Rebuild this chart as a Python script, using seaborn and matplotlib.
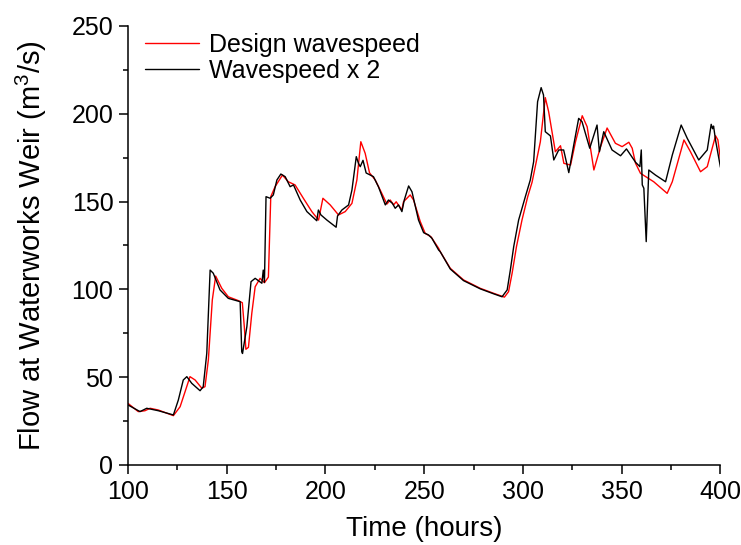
import matplotlib
matplotlib.use("Agg")
import matplotlib.pyplot as plt
from matplotlib.ticker import MultipleLocator
import seaborn as sns

# Design wavespeed (red)
design_t = [100.0, 105.2, 108.6, 111.2, 115.4, 123.0, 126.4, 128.9, 131.4, 134.0,
            137.4, 139.0, 140.7, 142.7, 144.4, 147.5, 150.8, 155.9, 157.9, 158.9,
            159.7, 161.0, 162.7, 164.4, 166.9, 169.1, 171.1, 172.3, 174.5, 178.2,
            181.2, 184.6, 188.8, 193.1, 196.5, 198.7, 202.4, 206.6, 210.0, 213.4,
            215.9, 217.9, 220.1, 222.3, 225.2, 227.7, 231.1, 232.8, 234.5, 235.8,
            238.7, 239.5, 242.9, 244.6, 248.0, 250.5, 253.4, 257.3, 258.1, 263.2,
            269.9, 278.4, 285.1, 290.6, 292.7, 294.5, 296.7, 299.5, 302.4, 304.6,
            308.8, 311.3, 313.0, 316.4, 319.0, 320.7, 324.1, 326.6, 330.0, 332.5,
            335.9, 339.3, 342.6, 346.8, 350.2, 353.6, 355.3, 357.0, 359.5, 366.2,
            373.0, 375.6, 381.5, 384.8, 389.9, 393.3, 397.5, 398.7, 400.0]
design_q = [35.1, 30.4, 30.9, 32.3, 31.3, 28.1, 33.2, 41.7, 50.3, 48.4,
            43.7, 44.6, 59.8, 94.0, 107.6, 100.6, 95.8, 93.6, 92.4, 78.8,
            65.9, 67.0, 86.4, 101.5, 106.3, 103.8, 107.0, 152.8, 158.5, 165.1,
            161.3, 159.5, 151.9, 144.3, 139.5, 151.9, 148.1, 142.4, 144.3, 149.0,
            162.3, 184.1, 177.5, 166.4, 162.3, 156.6, 148.6, 150.9, 148.1, 149.9,
            145.2, 149.9, 153.8, 150.9, 138.6, 131.9, 130.0, 123.4, 121.5, 112.0,
            105.4, 100.6, 97.8, 95.6, 98.7, 109.2, 124.3, 139.5, 152.8, 161.0,
            184.1, 209.2, 201.2, 178.4, 181.8, 171.8, 170.8, 184.1, 198.9, 192.6,
            168.0, 181.3, 191.9, 183.2, 181.3, 183.8, 180.4, 171.8, 166.1, 161.3,
            154.7, 161.3, 185.1, 178.4, 167.0, 169.9, 187.5, 185.1, 174.0]

# Wavespeed x 2 (black)
double_t = [100.0, 106.1, 109.5, 115.4, 123.0, 125.5, 128.0, 129.8, 132.3, 136.5,
            138.1, 139.9, 141.6, 143.2, 146.6, 150.8, 156.8, 157.6, 158.0, 160.2,
            162.3, 164.4, 167.8, 168.5, 169.1, 169.9, 172.0, 173.6, 175.4, 177.4,
            179.6, 182.1, 183.8, 187.2, 190.6, 195.6, 196.4, 197.7, 200.7, 205.4,
            206.1, 208.3, 211.7, 213.4, 215.6, 216.7, 217.6, 219.0, 220.6, 224.3,
            226.8, 230.3, 231.9, 233.9, 235.3, 237.0, 238.7, 239.9, 242.1, 243.8,
            247.1, 249.7, 252.2, 253.9, 257.3, 258.1, 263.2, 269.9, 278.4, 285.1,
            289.4, 292.0, 293.6, 295.3, 297.8, 301.2, 303.7, 305.4, 307.4, 309.2,
            310.4, 311.3, 313.9, 315.6, 318.1, 320.6, 323.2, 325.7, 328.2, 329.9,
            333.8, 337.5, 338.7, 340.9, 345.1, 349.4, 352.4, 357.0, 359.2, 359.9,
            360.4, 361.2, 362.4, 363.7, 367.1, 372.2, 375.6, 380.1, 383.2, 389.0,
            393.3, 395.3, 396.0, 396.5, 397.5, 400.0]
double_q = [34.2, 30.4, 32.3, 30.9, 28.5, 37.0, 48.4, 50.3, 46.5, 42.3,
            44.6, 63.6, 111.0, 109.2, 99.7, 94.9, 93.0, 64.5, 63.5, 78.8,
            104.4, 106.3, 103.5, 111.0, 104.0, 152.8, 151.9, 153.8, 162.3, 165.7,
            164.2, 158.5, 159.5, 150.9, 144.3, 139.1, 145.2, 142.4, 139.5, 135.4,
            141.8, 145.2, 148.1, 156.6, 175.6, 171.8, 169.9, 173.5, 166.3, 164.2,
            158.5, 148.1, 150.9, 149.0, 146.2, 148.1, 144.3, 150.9, 158.9, 155.6,
            139.5, 132.3, 131.0, 129.1, 122.4, 121.5, 111.6, 105.0, 100.3, 97.5,
            95.8, 99.7, 111.0, 124.3, 139.5, 152.8, 162.3, 172.7, 206.9, 214.9,
            210.7, 189.8, 187.4, 173.7, 179.4, 179.4, 166.5, 182.2, 197.4, 195.5,
            180.4, 193.6, 178.4, 189.8, 179.4, 176.1, 180.0, 172.4, 169.9, 179.4,
            159.5, 157.6, 127.2, 168.0, 165.1, 161.3, 176.5, 193.6, 186.0, 173.7,
            179.4, 194.0, 191.5, 193.0, 185.0, 169.5]

sns.set_style("ticks")
plt.rcParams['font.family'] = ['Liberation Sans', 'DejaVu Sans']
plt.rcParams['mathtext.default'] = 'regular'
plt.rcParams['text.color'] = 'black'
plt.rcParams['axes.labelcolor'] = 'black'

fig = plt.figure(figsize=(7.41, 5.45), dpi=100)
ax = fig.add_axes([0.1727, 0.1468, 0.7996, 0.8055])

sns.lineplot(x=design_t, y=design_q, color='#ff0000', lw=1.0, sort=False,
             estimator=None, label='Design wavespeed', ax=ax)
sns.lineplot(x=double_t, y=double_q, color='black', lw=1.0, sort=False,
             estimator=None, label='Wavespeed x 2', ax=ax)

ax.set_xlim(100, 400)
ax.set_ylim(0, 250)
ax.xaxis.set_major_locator(MultipleLocator(50))
ax.xaxis.set_minor_locator(MultipleLocator(25))
ax.yaxis.set_major_locator(MultipleLocator(50))
ax.yaxis.set_minor_locator(MultipleLocator(25))
ax.tick_params(which='major', direction='out', length=6.5, width=1.1,
               labelsize=18, colors='black', pad=4)
ax.tick_params(which='minor', direction='out', length=3.5, width=1.1,
               colors='black')
for s in ['top', 'right']:
    ax.spines[s].set_visible(False)
for s in ['left', 'bottom']:
    ax.spines[s].set_linewidth(1.1)
    ax.spines[s].set_color('black')

ax.set_xlabel('Time (hours)', fontsize=20, labelpad=9)
ax.set_ylabel('Flow at Waterworks Weir (m$^3$/s)', fontsize=21, labelpad=16)

leg = ax.legend(loc='upper left', bbox_to_anchor=(0.0, 1.025), frameon=False,
                fontsize=18, handlelength=2.15, handletextpad=0.4,
                labelspacing=0.08, borderaxespad=0.3)
for t in leg.get_texts():
    t.set_color('black')

fig.savefig('out.png', dpi=100)
